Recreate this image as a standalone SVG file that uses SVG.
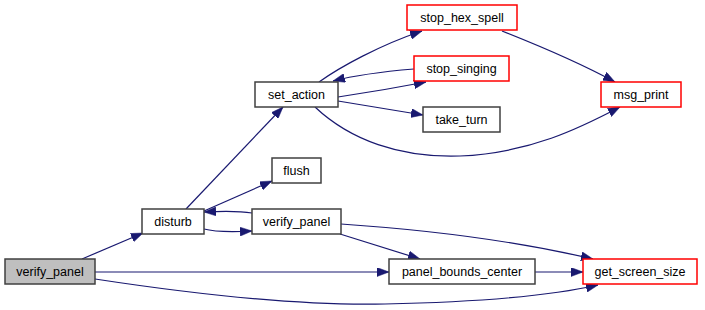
<svg xmlns="http://www.w3.org/2000/svg" width="705" height="310" viewBox="0 0 705 310">
  <style>
    .node rect { fill: #ffffff; stroke: #404040; stroke-width: 1.5; }
    .node.root rect { fill: #bfbfbf; }
    .node.ext rect { stroke: #ff0000; }
    .node text { font-family: "Liberation Sans", Arial, sans-serif; font-size: 12.5px; fill: #000000; text-anchor: middle; }
    .edges path { fill: none; stroke: #191970; stroke-width: 1.2; }
  </style>
  <defs>
    <marker id="arrow" markerUnits="userSpaceOnUse" markerWidth="12" markerHeight="9" refX="12" refY="4.5" orient="auto">
      <path d="M0,0 L12,4.5 L0,9 Z" fill="#191970" stroke="#191970" stroke-width="0.5"/>
    </marker>
  </defs>
  <rect width="705" height="310" fill="#ffffff"/>

  <g class="edges">
    <path d="M82,259 L143,233" marker-end="url(#arrow)"/>
    <path d="M95,272 L389,272" marker-end="url(#arrow)"/>
    <path d="M95,279 C200,295 300,306 385,304 C480,302 550,296 598,285" marker-end="url(#arrow)"/>
    <path d="M186,209 L283,107" marker-end="url(#arrow)"/>
    <path d="M204,211 L272,181" marker-end="url(#arrow)"/>
    <path d="M204,229 C215,232 232,232 252,231" marker-end="url(#arrow)"/>
    <path d="M252,213 C240,211 225,211 204,212" marker-end="url(#arrow)"/>
    <path d="M340,234 L420,259" marker-end="url(#arrow)"/>
    <path d="M341,224 C430,230 520,242 593,259" marker-end="url(#arrow)"/>
    <path d="M319,82 C340,67 380,45 422,31" marker-end="url(#arrow)"/>
    <path d="M338,97 C365,93 395,88 426,82" marker-end="url(#arrow)"/>
    <path d="M414,69 C390,71 360,74 333,81" marker-end="url(#arrow)"/>
    <path d="M338,101 L423,115" marker-end="url(#arrow)"/>
    <path d="M315,107 C350,140 400,158 460,156 C530,153 580,128 620,107" marker-end="url(#arrow)"/>
    <path d="M502,31 C540,46 580,63 615,82" marker-end="url(#arrow)"/>
    <path d="M535,272 L583,272" marker-end="url(#arrow)"/>
  </g>

  <g id="node-verify_panel-root" class="node root">
    <rect x="5" y="259" width="90" height="25"/>
    <text x="50" y="276">verify_panel</text>
  </g>
  <g id="node-disturb" class="node">
    <rect x="142" y="209" width="62" height="25"/>
    <text x="173" y="226">disturb</text>
  </g>
  <g id="node-verify_panel" class="node">
    <rect x="252" y="209" width="89" height="25"/>
    <text x="296.5" y="226">verify_panel</text>
  </g>
  <g id="node-flush" class="node">
    <rect x="272" y="158" width="49" height="25"/>
    <text x="296.5" y="175">flush</text>
  </g>
  <g id="node-set_action" class="node">
    <rect x="255" y="82" width="83" height="25"/>
    <text x="296.5" y="99">set_action</text>
  </g>
  <g id="node-stop_hex_spell" class="node ext">
    <rect x="407" y="5" width="110" height="25"/>
    <text x="462" y="22">stop_hex_spell</text>
  </g>
  <g id="node-stop_singing" class="node ext">
    <rect x="414" y="56" width="95" height="25"/>
    <text x="461.5" y="73">stop_singing</text>
  </g>
  <g id="node-take_turn" class="node">
    <rect x="423" y="107" width="77" height="25"/>
    <text x="461.5" y="124">take_turn</text>
  </g>
  <g id="node-msg_print" class="node ext">
    <rect x="601" y="82" width="80" height="25"/>
    <text x="641" y="99">msg_print</text>
  </g>
  <g id="node-panel_bounds_center" class="node">
    <rect x="389" y="259" width="146" height="25"/>
    <text x="462" y="276">panel_bounds_center</text>
  </g>
  <g id="node-get_screen_size" class="node ext">
    <rect x="583" y="259" width="114" height="25"/>
    <text x="640" y="276">get_screen_size</text>
  </g>
</svg>
